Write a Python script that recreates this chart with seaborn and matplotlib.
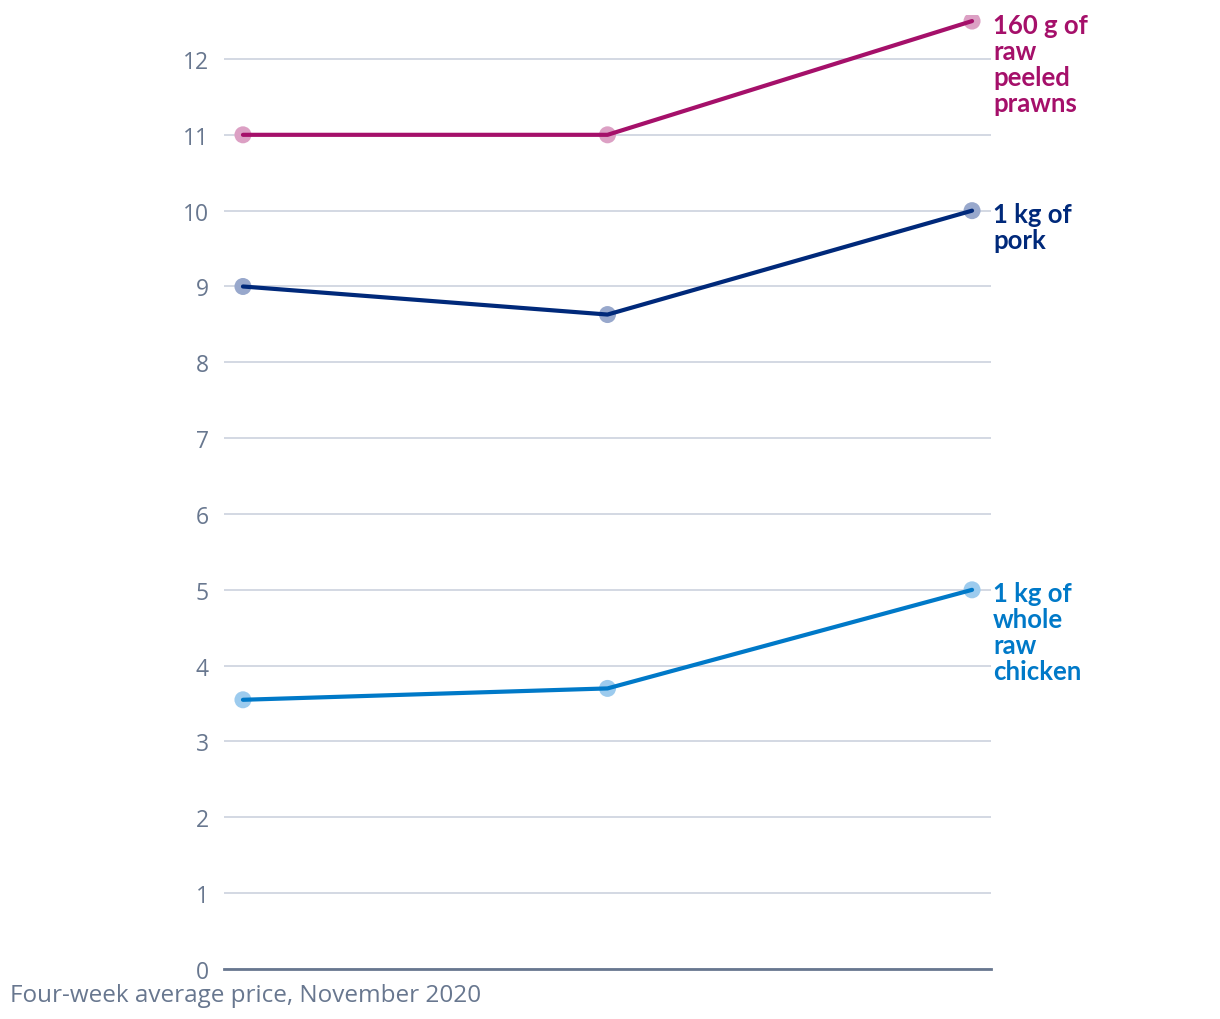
import pandas as pd
import matplotlib
matplotlib.use('Agg')
import matplotlib.pyplot as plt
import seaborn as sns

# Data
periods = [0, 1, 2]
prawns = [11.0, 11.0, 12.5]
pork = [9.0, 8.63, 10.0]
chicken = [3.55, 3.7, 5.0]

series_names = ['160 g of\nraw\npeeled\nprawns', '1 kg of\npork', '1 kg of\nwhole\nraw\nchicken']
line_colors = ['#a5106a', '#00297a', '#0079c8']
dot_colors = ['#dca0c4', '#98a8cc', '#9ccbee']
yticks = list(range(0, 13))
caption = 'Four-week average price, November 2020'

df = pd.DataFrame({
    'period': periods * 3,
    'price': prawns + pork + chicken,
    'item': [series_names[0]] * 3 + [series_names[1]] * 3 + [series_names[2]] * 3,
})

sns.set_theme(style='white')
plt.rcParams['font.family'] = ['Open Sans', 'DejaVu Sans']

grey = '#68778f'

fig = plt.figure(figsize=(12.2, 10.2), dpi=100)
ax = fig.add_axes([224 / 1220, 1 - 970 / 1020, (991 - 224) / 1220, (970 - 16) / 1020])

# light dots behind the lines
sns.scatterplot(data=df, x='period', y='price', hue='item', palette=dot_colors,
                s=150, edgecolor='none', legend=False, ax=ax, zorder=3)
sns.lineplot(data=df, x='period', y='price', hue='item', palette=line_colors,
             linewidth=3, legend=False, ax=ax, zorder=4)

ax.set_xlim(-0.052, 2.052)
ax.set_ylim(0, 12.58)
ax.set_yticks(yticks)
ax.set_yticklabels([str(t) for t in yticks])
ax.set_xticks([])
ax.set_xlabel('')
ax.set_ylabel('')

ax.grid(True, axis='y', color='#d3d8e3', linewidth=1.4)
ax.set_axisbelow(True)
for side in ['top', 'right', 'left']:
    ax.spines[side].set_visible(False)
ax.spines['bottom'].set_color(grey)
ax.spines['bottom'].set_linewidth(2)
ax.spines['bottom'].set_zorder(5)
ax.tick_params(axis='y', length=0, pad=11, labelsize=16.5, labelcolor=grey)

# end labels
for name, vals, col in zip(series_names, [prawns, pork, chicken], line_colors):
    ax.annotate(name, xy=(periods[-1], vals[-1]), xytext=(15, 6),
                textcoords='offset points', ha='left', va='top',
                fontsize=18.5, fontweight='bold', color=col, linespacing=1.1,
                family=['Lato', 'DejaVu Sans'], annotation_clip=False)

fig.text(10 / 1220, 1 - 996 / 1020, caption, ha='left', va='center',
         fontsize=17.5, color=grey)

fig.savefig('out.png', dpi=100)
